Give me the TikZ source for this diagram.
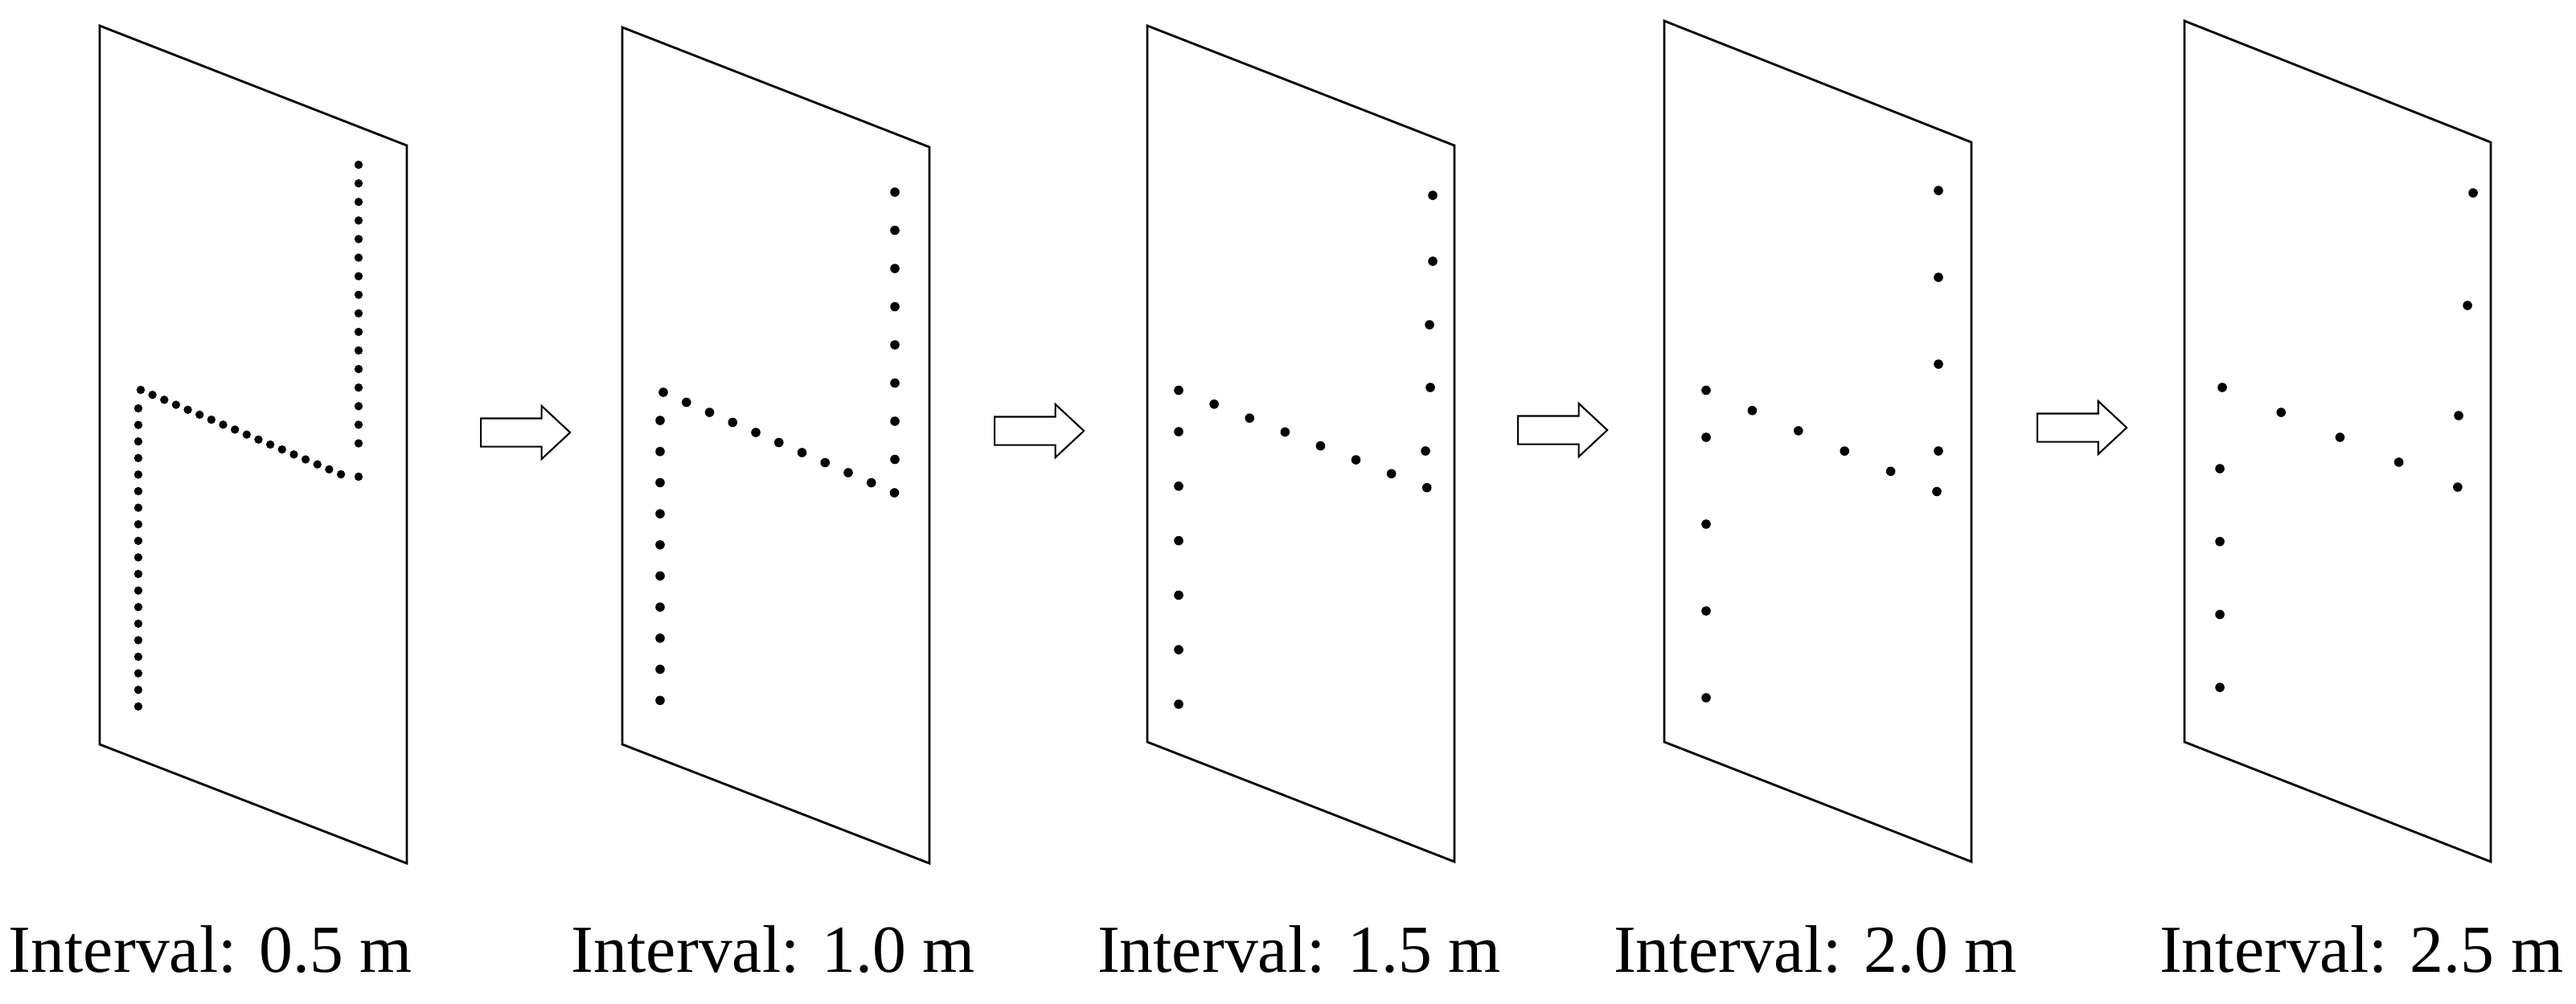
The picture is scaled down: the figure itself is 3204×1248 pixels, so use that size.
\documentclass[tikz,border=0pt]{standalone}
\usepackage{fontspec}
\setmainfont{Liberation Serif}
\usetikzlibrary{shapes.arrows}

\begin{document}
\begin{tikzpicture}[x=0.01cm, y=-0.01cm,
		panel/.style={draw, line width=0.8pt, line join=miter},
		dotr/.style={fill=black},
		blockarr/.style={draw, line width=0.6pt, single arrow, anchor=tail, inner xsep=0pt, inner ysep=0.165cm,
			minimum height=1.11cm, single arrow head extend=0.155cm, single arrow tip angle=86},
		lbl/.style={anchor=base, inner sep=0pt, font=\fontsize{23.8}{29}\selectfont}]
	\useasboundingbox (0,0) rectangle (3204,1248);

	% walls
	\draw[panel] (124,32) -- (506,181) -- (506,1074) -- (124,926) -- cycle;
	\draw[panel] (774,34) -- (1156,183) -- (1156,1074) -- (774,926) -- cycle;
	\draw[panel] (1427,32) -- (1809,181) -- (1809,1072) -- (1427,923) -- cycle;
	\draw[panel] (2070,26) -- (2452,177) -- (2452,1072) -- (2070,923) -- cycle;
	\draw[panel] (2717,26) -- (3098,177) -- (3098,1072) -- (2717,923) -- cycle;

	% 0.5 m
	\foreach \k in {0,...,18} \fill[dotr] (172,508+20.6*\k) circle[radius=0.52mm];
	\foreach \k in {0,...,17} \fill[dotr] (175+14.65*\k,485+6.18*\k) circle[radius=0.52mm];
	\foreach \k in {0,...,15} \fill[dotr] (446,205+23.1*\k) circle[radius=0.52mm];
	\fill[dotr] (446,593) circle[radius=0.52mm];

	% 1.0 m
	\foreach \k in {0,...,9} \fill[dotr] (821,523+38.7*\k) circle[radius=0.58mm];
	\foreach \k in {0,...,10} \fill[dotr] (825+28.75*\k,488+12.5*\k) circle[radius=0.58mm];
	\foreach \k in {0,...,7} \fill[dotr] (1113,239+47.5*\k) circle[radius=0.58mm];

	% 1.5 m
	\foreach \k in {0,...,5} \fill[dotr] (1466,537+67.8*\k) circle[radius=0.58mm];
	\foreach \k in {0,...,7} \fill[dotr] (1466+44.1*\k,485.5+17.3*\k) circle[radius=0.58mm];
	\foreach \p in {(1782,243),(1782,325),(1778,404),(1779,482),(1773,561)}
		\fill[dotr] \p circle[radius=0.58mm];

	% 2.0 m
	\foreach \k in {0,...,3} \fill[dotr] (2122,544+108*\k) circle[radius=0.58mm];
	\foreach \k in {0,...,5} \fill[dotr] (2122+57.4*\k,485.5+25.2*\k) circle[radius=0.58mm];
	\foreach \k in {0,...,3} \fill[dotr] (2411,237+108*\k) circle[radius=0.58mm];

	% 2.5 m
	\foreach \k in {0,...,3} \fill[dotr] (2761,583+90.7*\k) circle[radius=0.58mm];
	\foreach \k in {0,...,4} \fill[dotr] (2764+73.2*\k,482+31*\k) circle[radius=0.58mm];
	\foreach \p in {(3076,240),(3069,380),(3058,517)}
		\fill[dotr] \p circle[radius=0.58mm];

	% arrows between walls
	\node[blockarr] (arr1) at (597,538) {};
	\node[blockarr] (arr2) at (1236,536) {};
	\node[blockarr] (arr3) at (1887,535) {};
	\node[blockarr] (arr4) at (2533,532) {};

	% labels
	\node[lbl] (lab1) at (262,1209) {Interval: 0.5 m};
	\node[lbl] (lab2) at (962,1209) {Interval: 1.0 m};
	\node[lbl] (lab3) at (1616,1209) {Interval: 1.5 m};
	\node[lbl] (lab4) at (2258,1209) {Interval: 2.0 m};
	\node[lbl] (lab5) at (2937,1209) {Interval: 2.5 m};
\end{tikzpicture}
\end{document}
